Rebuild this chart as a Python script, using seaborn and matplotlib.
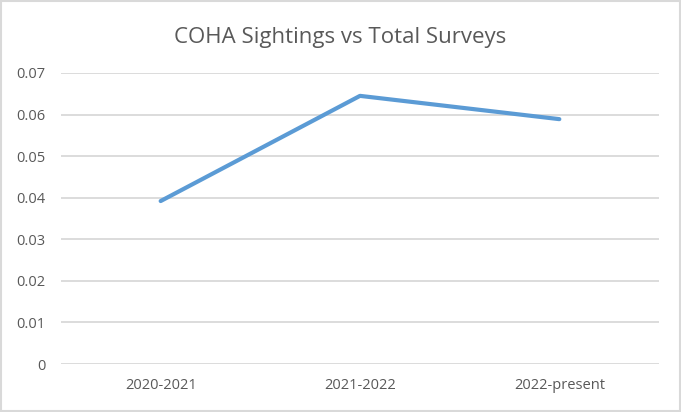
import matplotlib
matplotlib.use("Agg")
import matplotlib.pyplot as plt
import matplotlib.patches as patches
import pandas as pd
import seaborn as sns

# data
seasons = ["2020-2021", "2021-2022", "2022-present"]
ratio = [0.0392, 0.0645, 0.0589]
yticks = [0, 0.01, 0.02, 0.03, 0.04, 0.05, 0.06, 0.07]
ytick_labels = ["0", "0.01", "0.02", "0.03", "0.04", "0.05", "0.06", "0.07"]

df = pd.DataFrame({"Season": seasons, "Ratio": ratio})

sns.set_style("white")
plt.rcParams["font.family"] = ["Open Sans", "DejaVu Sans"]

fig = plt.figure(figsize=(6.81, 4.12), dpi=100)
ax = fig.add_axes([61 / 681, 1 - 364 / 412, 598 / 681, 291 / 412])

sns.lineplot(data=df, x="Season", y="Ratio", sort=False, color="#5B9BD5",
             linewidth=3.0, solid_capstyle="round", ax=ax)

ax.set_xlim(-0.5, 2.5)
ax.set_ylim(0, 0.07)
ax.set_yticks(yticks)
ax.set_yticklabels(ytick_labels)
ax.yaxis.grid(True, color="#D9D9D9", linewidth=1.3)
ax.set_axisbelow(True)
for s in ax.spines.values():
    s.set_visible(False)
ax.tick_params(length=0, labelsize=10.5, labelcolor="#595959")
ax.tick_params(axis="y", pad=11)
ax.tick_params(axis="x", pad=10)
ax.set_xlabel("")
ax.set_ylabel("")

fig.suptitle("COHA Sightings vs Total Surveys", y=1 - 37 / 412, va="center",
             fontsize=16, color="#595959")

# light border around the chart area
fig.patches.append(patches.Rectangle((0.002, 0.003), 0.996, 0.994, transform=fig.transFigure,
                                     fill=False, edgecolor="#D9D9D9", linewidth=1.5))

fig.savefig("out.png", dpi=100)
